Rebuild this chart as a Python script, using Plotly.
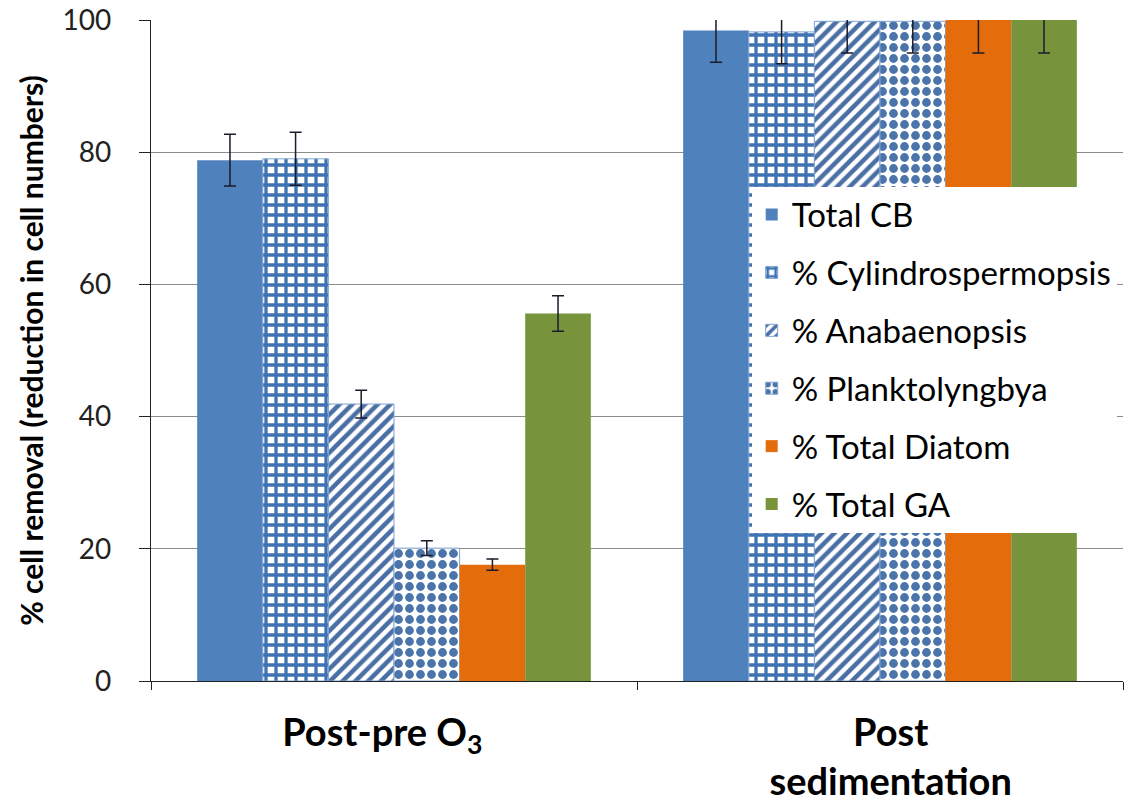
import plotly.graph_objects as go

# Treatment stages on the x axis
stages = ["Post-pre O<sub>3</sub>", "Post<br>sedimentation"]
stage_pos = list(range(len(stages)))
label_pos = [-0.024, 1.022]

# Series names and mean removal (%) for each stage
series = ["Total CB", "% Cylindrospermopsis", "% Anabaenopsis",
          "% Planktolyngbya", "% Total Diatom", "% Total GA"]
total_cb = [78.8, 98.4]
cylindro = [79.0, 98.2]
anabaeno = [41.9, 99.8]
plankto = [20.1, 99.8]
diatom = [17.6, 100.0]
total_ga = [55.6, 100.0]

# Standard deviations (error bars)
total_cb_err = [3.9, 4.8]
cylindro_err = [4.0, 4.8]
anabaeno_err = [2.1, 4.8]
plankto_err = [1.1, 4.8]
diatom_err = [0.85, 5.0]
total_ga_err = [2.7, 5.0]

values = [total_cb, cylindro, anabaeno, plankto, diatom, total_ga]
errors = [total_cb_err, cylindro_err, anabaeno_err, plankto_err, diatom_err, total_ga_err]

BLUE = "#4F81BD"
FONT = "Lato"

styles = [
    dict(color=BLUE, line=dict(width=0)),
    dict(color="white", line=dict(color="#7FA3D1", width=1),
         pattern=dict(shape="+", fgcolor="#3F72B3", bgcolor="white",
                      size=10, solidity=0.55, fgopacity=1)),
    dict(color="white", line=dict(color="#7FA3D1", width=1),
         pattern=dict(shape="/", fgcolor="#4A6FA5", bgcolor="white",
                      size=9, solidity=0.5, fgopacity=1)),
    dict(color="white", line=dict(color="#7FA3D1", width=1),
         pattern=dict(shape=".", fgcolor="#4A74AA", bgcolor="white",
                      size=11, solidity=0.5, fgopacity=1)),
    dict(color="#E46C0A", line=dict(width=0)),
    dict(color="#77933C", line=dict(width=0)),
]

fig = go.Figure()
for name, vals, errs, st in zip(series, values, errors, styles):
    fig.add_trace(go.Bar(
        x=stage_pos, y=vals, name=name, legendgroup=name,
        marker=st,
        error_y=dict(type="data", array=errs, visible=True,
                     color="#1B1B2B", thickness=1.5, width=6),
    ))

fig.update_layout(
    width=1129, height=804,
    margin=dict(l=151, r=6, t=20, b=123),
    plot_bgcolor="white", paper_bgcolor="white",
    barmode="group", bargap=0.19, bargroupgap=0,
    font=dict(family=FONT, color="black"),
    showlegend=True,
    legend=dict(
        x=0.618, y=0.748, xanchor="left", yanchor="top",
        bgcolor="white", borderwidth=0,
        font=dict(family=FONT, size=33, color="black"),
        traceorder="grouped", tracegroupgap=12,
    ),
)

fig.update_yaxes(
    range=[0, 100], tickvals=[0, 20, 40, 60, 80, 100],
    showgrid=True, gridcolor="#8C8C8C", gridwidth=1.3,
    showline=True, linecolor="#222222", linewidth=1.3,
    ticks="outside", ticklen=11, tickcolor="#222222",
    tickfont=dict(family=FONT, size=28, color="#222222"),
    ticklabelstandoff=22,
    zeroline=False, automargin=False,
    title=dict(text="<b>% cell removal (reduction in cell numbers)</b>",
               font=dict(family=FONT, size=30, color="black"), standoff=10),
)

# Category labels on major ticks (no tick marks); boundary ticks as minor ticks
fig.update_xaxes(
    range=[-0.5, 1.5], tickvals=label_pos, ticktext=stages,
    showgrid=False, zeroline=False,
    showline=True, linecolor="#222222", linewidth=1.3,
    ticks="outside", ticklen=8, tickcolor="rgba(0,0,0,0)",
    minor=dict(tickvals=[-0.5, 0.5, 1.5], ticks="outside", ticklen=8,
               tickcolor="#222222", showgrid=False),
    tickfont=dict(family=FONT, size=38, color="black", weight="bold"),
    ticklabelstandoff=10, automargin=False,
)

fig.write_html("out.html")
